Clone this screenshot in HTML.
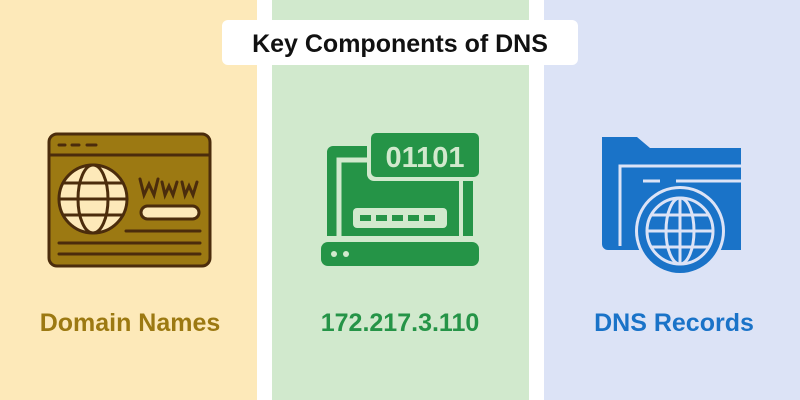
<!DOCTYPE html>
<html><head><style>
body{margin:0;width:800px;height:400px;overflow:hidden;background:#fff;font-family:"Liberation Sans",sans-serif}
</style></head><body>
<svg width="800" height="400" xmlns="http://www.w3.org/2000/svg" style="position:absolute;left:0;top:0">
<rect x="0" y="0" width="257" height="400" fill="#fde9b9"/>
<rect x="272" y="0" width="257" height="400" fill="#d1e9cd"/>
<rect x="544" y="0" width="256" height="400" fill="#dce3f6"/>
<rect x="222" y="20" width="356" height="45" rx="6" fill="#fff"/>
<text x="400" y="52" text-anchor="middle" font-family="Liberation Sans" font-weight="bold" font-size="25" fill="#111">Key Components of DNS</text>

<!-- icon 1 -->
<g stroke="#4b2c0c" stroke-width="3" stroke-linecap="round">
<rect x="49" y="134" width="161" height="132" rx="8" fill="#9c7912"/>
<line x1="49" y1="155" x2="210" y2="155"/>
<line x1="59" y1="145" x2="65" y2="145"/><line x1="72" y1="145" x2="79" y2="145"/><line x1="87" y1="145" x2="96" y2="145"/>
<circle cx="93" cy="199" r="34" fill="#fde9b9"/>
<ellipse cx="93" cy="199" rx="15" ry="34" fill="none"/>
<line x1="59" y1="199" x2="127" y2="199"/>
<line x1="64" y1="183" x2="122" y2="183"/>
<line x1="64" y1="215" x2="122" y2="215"/>
<rect x="141" y="206" width="58" height="13" rx="6.5" fill="#fde9b9"/>
<line x1="126" y1="231" x2="200" y2="231"/>
<line x1="59" y1="243" x2="200" y2="243"/>
<line x1="59" y1="254" x2="200" y2="254"/>
<polyline points="140,179 144,195 149,184 154,195 158,179" fill="none"/>
<polyline points="162,182 165,195 169,186 173,195 177,182" fill="none"/>
<polyline points="182,182 185,195 189,186 193,195 197,182" fill="none"/>
</g>

<!-- icon 2 -->
<path d="M327,152 a6,6 0 0 1 6,-6 H473 V236 H327 Z" fill="#259447"/>
<path d="M339,236 V160 H371" fill="none" stroke="#d1e9cd" stroke-width="5"/>
<rect x="367" y="129" width="116" height="52" rx="7" fill="#d1e9cd"/>
<rect x="371" y="133" width="108" height="44" rx="5" fill="#259447"/>
<rect x="459" y="181" width="4" height="56" fill="#d1e9cd"/>
<text x="425" y="167" text-anchor="middle" font-family="Liberation Sans" font-weight="bold" font-size="29" fill="#d1e9cd">01101</text>
<rect x="353" y="208" width="94" height="20" rx="4" fill="#d1e9cd"/>
<g fill="#259447"><rect x="360" y="215" width="11" height="6"/><rect x="376" y="215" width="11" height="6"/><rect x="392" y="215" width="11" height="6"/><rect x="408" y="215" width="11" height="6"/><rect x="424" y="215" width="11" height="6"/></g>
<rect x="321" y="242" width="158" height="24" rx="7" fill="#259447"/>
<circle cx="334" cy="254" r="3" fill="#d1e9cd"/><circle cx="346" cy="254" r="3" fill="#d1e9cd"/>

<!-- icon 3 -->
<path d="M602,137 H637 L650,148 H741 V250 H608 a6,6 0 0 1 -6,-6 Z" fill="#1a73c8"/>
<path d="M620,246 V166 H741" fill="none" stroke="#dce3f6" stroke-width="3"/>
<line x1="643" y1="181" x2="660" y2="181" stroke="#dce3f6" stroke-width="3"/>
<line x1="676" y1="181" x2="741" y2="181" stroke="#dce3f6" stroke-width="3"/>
<circle cx="680" cy="231" r="45" fill="#dce3f6"/>
<circle cx="680" cy="231" r="42" fill="#1a73c8"/>
<g stroke="#dce3f6" stroke-width="3" fill="none">
<circle cx="680" cy="231" r="33"/>
<ellipse cx="680" cy="231" rx="14" ry="33"/>
<line x1="680" y1="198" x2="680" y2="264"/>
<line x1="647" y1="231" x2="713" y2="231"/>
<line x1="652" y1="215" x2="708" y2="215"/>
<line x1="652" y1="247" x2="708" y2="247"/>
</g>

<text x="130" y="331" text-anchor="middle" font-family="Liberation Sans" font-weight="bold" font-size="25" fill="#9c7912">Domain Names</text>
<text x="400" y="331" text-anchor="middle" font-family="Liberation Sans" font-weight="bold" font-size="25" fill="#259447">172.217.3.110</text>
<text x="674" y="331" text-anchor="middle" font-family="Liberation Sans" font-weight="bold" font-size="25" fill="#1a73c8">DNS Records</text>
</svg>
</body></html>
